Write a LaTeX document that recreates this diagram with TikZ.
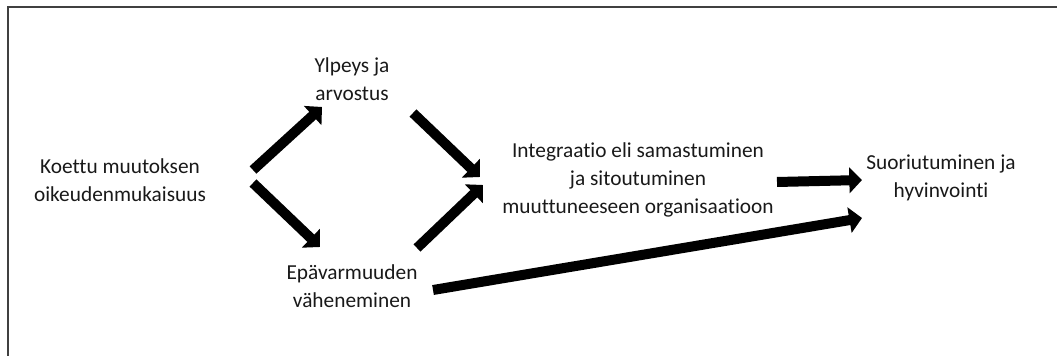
\documentclass[tikz,border=0pt]{standalone}
\usepackage{fontspec}
\setmainfont{Carlito}[Ligatures=NoCommon]
\usetikzlibrary{arrows.meta}

\tikzset{
	label/.style={align=center, inner sep=0pt, text=black!90,
		font=\fontsize{16pt}{21pt}\selectfont},
	fat/.style={line width=7.5pt, -{Triangle[length=9.5pt,width=19pt]}},
}

\begin{document}
\begin{tikzpicture}[x=0.75pt, y=-0.75pt]
	\useasboundingbox (0,0) rectangle (1057,356);

	% frame
	\draw[line width=1.5pt, color=black!75] (1057,7) -- (8,7) -- (8,356);

	% texts
	\node[label] (koettu) at (120,180) {Koettu muutoksen\\oikeudenmukaisuus};
	\node[label] (ylpeys) at (352,79) {Ylpeys ja\\arvostus};
	\node[label] (epav) at (352,286) {Epävarmuuden\\väheneminen};
	\node[label] (integ) at (638,180) {Integraatio eli samastuminen\\ja sitoutuminen\\muuttuneeseen organisaatioon};
	\node[label] (suor) at (941,178) {Suoriutuminen ja\\hyvinvointi};

	% left part
	\draw[fat] ([shift={(133,-10)}]koettu.center) -- ([shift={(-30,28)}]ylpeys.center);
	\draw[fat] ([shift={(133,3)}]koettu.center) -- ([shift={(-32,-39)}]epav.center);

	% middle part
	\draw[fat] ([shift={(61,34)}]ylpeys.center) -- ([shift={(-158,-3)}]integ.center);
	\draw[fat] ([shift={(65,-38)}]epav.center) -- ([shift={(-155,5)}]integ.center);

	% right part
	\draw[fat] ([shift={(139,2)}]integ.center) -- ([shift={(-79,2)}]suor.center);
	\draw[fat] ([shift={(81,4)}]epav.center) -- ([shift={(-79,40)}]suor.center);
\end{tikzpicture}
\end{document}
